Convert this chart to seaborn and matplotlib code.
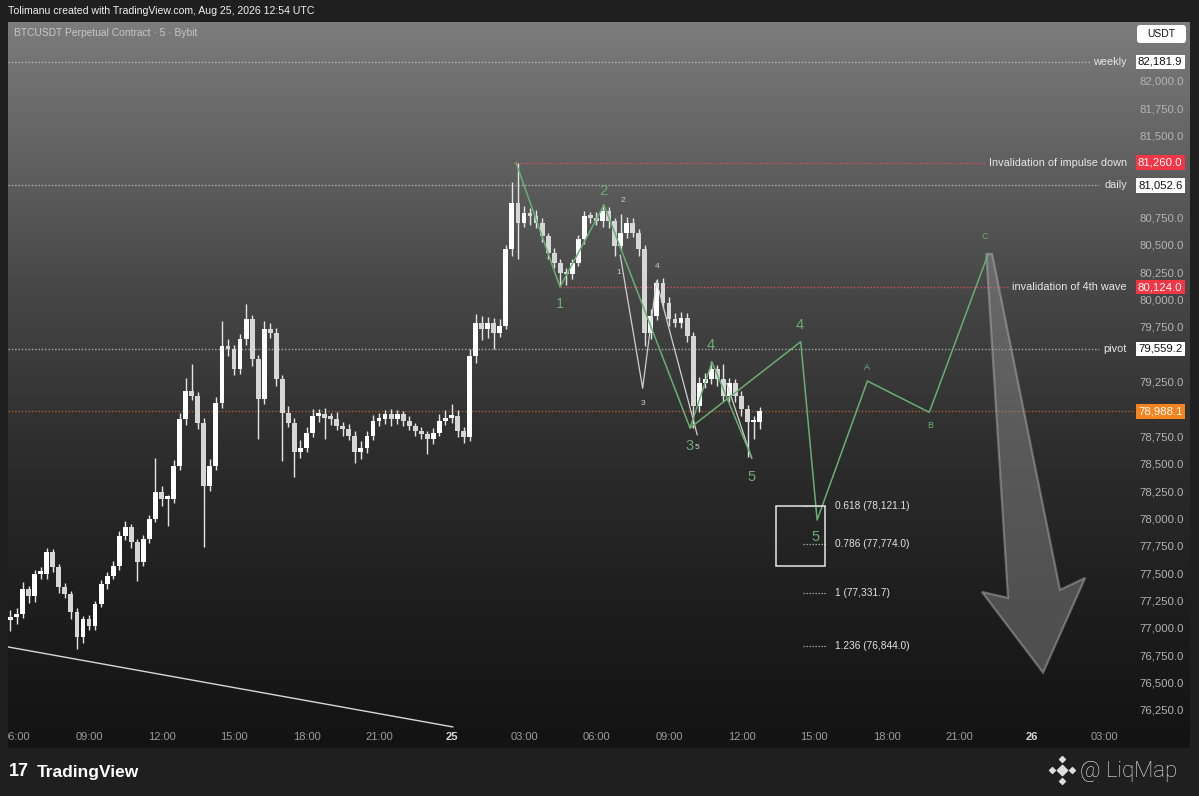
import numpy as np
import matplotlib
matplotlib.use("Agg")
import matplotlib.pyplot as plt
import matplotlib.transforms as mtransforms
from matplotlib.patches import Polygon, Rectangle, FancyBboxPatch
import seaborn as sns

# ============================================
# Data - 15 min candles, x = hours since Aug 24 00:00 UTC
# ============================================

first_open = 77080
close = [
    77106, 77137, 77365, 77304, 77502, 77502, 77699, 77563, 77380, 77319,
    77152, 76924, 77091, 77030, 77228, 77410, 77486, 77578, 77851, 77927,
    77791, 77608, 77821, 78004, 78247, 78186, 78186, 78490, 78916, 79174,
    79129, 78885, 78308, 78490, 79068, 79585, 79554, 79372, 79646, 79828,
    79463, 79098, 79737, 79706, 79281, 78977, 78885, 78612, 78657, 78794,
    78946, 78961, 78931, 78916, 78855, 78825, 78764, 78612, 78657, 78764,
    78901, 78916, 78961, 78916, 78961, 78901, 78855, 78809, 78779, 78733,
    78794, 78901, 78931, 78946, 78809, 78749, 79494, 79798,
    79738, 79799, 79707, 79768, 80468, 80893, 80711, 80802, 80772, 80711,
    80589, 80437, 80346, 80255, 80240, 80346, 80559, 80772, 80757, 80726,
    80817, 80726, 80498, 80620, 80711, 80620, 80468, 79707, 79860, 80164,
    79981, 79829, 79799, 79844, 79677, 79038, 79251, 79282, 79373, 79282,
    79130, 79251, 79130, 79008, 78886, 78886, 78988,
]
up_wick = [
    70, 50, 60, 30, 40, 60, 40, 30, 30, 40,
    30, 40, 30, 40, 30, 40, 30, 40, 40, 60,
    30, 30, 40, 40, 319, 60, 40, 50, 60, 122,
    244, 40, 40, 60, 50, 228, 60, 40, 50, 137,
    40, 40, 80, 60, 40, 40, 60, 40, 70, 50,
    60, 50, 60, 40, 70, 40, 50, 40, 60, 40,
    50, 60, 40, 50, 40, 30, 40, 30, 40, 30,
    40, 60, 70, 110, 50, 40, 60, 80,
    60, 50, 40, 60, 40, 186, 367, 60, 40, 60,
    40, 30, 40, 30, 40, 30, 40, 50, 40, 50,
    61, 40, 30, 167, 50, 40, 30, 40, 60, 30,
    40, 50, 60, 50, 40, 40, 50, 60, 77, 40,
    137, 40, 30, 40, 40, 60, 40,
]
dn_wick = [
    100, 60, 40, 70, 60, 50, 50, 40, 50, 40,
    60, 106, 50, 40, 40, 30, 50, 30, 40, 40,
    50, 167, 30, 40, 30, 60, 243, 40, 40, 50,
    40, 60, 563, 50, 40, 50, 60, 50, 40, 50,
    60, 365, 40, 50, 60, 441, 40, 228, 50, 40,
    40, 60, 200, 50, 40, 60, 40, 92, 60, 50,
    40, 50, 40, 60, 40, 50, 40, 50, 40, 136,
    40, 30, 40, 50, 60, 50, 30, 60,
    100, 80, 150, 40, 30, 60, 334, 40, 80, 50,
    50, 60, 50, 120, 100, 40, 30, 40, 50, 40,
    50, 60, 91, 40, 50, 40, 60, 121, 60, 40,
    50, 60, 40, 50, 60, 198, 60, 50, 40, 60,
    50, 60, 60, 60, 319, 152, 60,
]
candle_start = 5.75      # 05:45 on Aug 24
candle_step = 0.25       # 15 minutes

# wave counts (time in hours, price)
wave_t = [26.67, 28.49, 30.31, 33.87, 34.78, 36.43]
wave_p = [81260, 80124, 80873, 78836, 79439, 78562]
alt_t = [33.87, 38.45, 39.13, 41.21, 43.77, 46.21]
alt_p = [78836, 79624, 77995, 79265, 78979, 80426]
sub_t = [30.98, 31.91, 32.48, 34.17]
sub_p = [80417, 79199, 80179, 78772]
sub2_t = [35.39, 36.42]
sub2_p = [79244, 78559]
trend_t = [5.648, 24.06]
trend_p = [76835, 76104]

# horizontal levels
level_names = ["weekly", "Invalidation of impulse down", "daily",
               "invalidation of 4th wave", "pivot"]
level_prices = [82181.9, 81260.0, 81052.6, 80124.0, 79559.2]
level_start = [5.648, 26.55, 5.648, 28.49, 5.648]
level_end = [50.43, 46.12, 50.80, 47.12, 50.80]
level_red = [False, True, False, True, False]
last_price = 78988.1

# fib extension levels
fib_ratios = ["0.618", "0.786", "1", "1.236"]
fib_prices = [78121.1, 77774.0, 77331.7, 76844.0]
box_t = [37.43, 39.46]
box_p = [77575, 78121.1]

# projection arrow outline
arrow_t = [46.13, 46.37, 49.18, 50.22, 48.48, 45.95, 47.03]
arrow_p = [80426, 80426, 77356, 77466, 76600, 77338, 77283]

# axis ticks
price_ticks = list(range(76250, 82251, 250))
time_ticks = [6, 9, 12, 15, 18, 21, 24, 27, 30, 33, 36, 39, 42, 45, 48, 51]
time_labels = ["06:00", "09:00", "12:00", "15:00", "18:00", "21:00", "25",
               "03:00", "06:00", "09:00", "12:00", "15:00", "18:00", "21:00",
               "26", "03:00"]

# ============================================
# Figure
# ============================================

sns.set_theme(style="dark")
plt.rcParams['font.family'] = ['Liberation Sans', 'DejaVu Sans']

W, H = 1199, 796
GREEN = '#6aae72'
DOT = (0, (1, 1.4))

fig = plt.figure(figsize=(W / 100, H / 100), dpi=100, facecolor='#1f1f1f')
ax = fig.add_axes([8 / W, 1 - 748 / H, 1182 / W, 726 / H])
ax.axis('off')

# background gradient
grad_pos = [0.0, 0.176, 0.383, 0.59, 0.796, 1.0]
grad_val = [0x7c, 0x62, 0x45, 0x2d, 0x1e, 0x13]
g = np.interp(np.linspace(0, 1, 400), grad_pos, grad_val) / 255
img = np.stack([g, g, g], axis=-1)[:, None, :].repeat(2, axis=1)
ax.imshow(img, extent=[0, 1, 0, 1], transform=ax.transAxes, aspect='auto',
          zorder=0, interpolation='bilinear')

# candles
c = np.array(close, dtype=float)
o = np.r_[first_open, c[:-1]]
t = candle_start + candle_step * np.arange(len(c))
hi = np.maximum(o, c) + np.array(up_wick)
lo = np.minimum(o, c) - np.array(dn_wick)
cols = np.where(c >= o, '#ffffff', '#d6d6d6')
ax.vlines(t, lo, hi, colors='#e4e4e4', lw=1.0, zorder=3)
ax.bar(t, np.maximum(np.abs(c - o), 25), bottom=np.minimum(o, c), width=0.2,
       color=cols, edgecolor='none', zorder=4)

# trend line
ax.plot(trend_t, trend_p, color='#d8d8d8', lw=1.0, zorder=3)

# horizontal levels
yax = mtransforms.blended_transform_factory(ax.transAxes, ax.transData)
for name, p, s, e, red in zip(level_names, level_prices, level_start, level_end, level_red):
    col = '#e2505a' if red else '#cfcfcf'
    ax.hlines(p, s, e, colors=col, linestyles=DOT, lw=1.0, alpha=0.9 if red else 0.75, zorder=2)
    ax.text(51.95, p, name, ha='right', va='center', color='#e8e8e8', fontsize=7.8, zorder=9)
ax.hlines(last_price, 5.648, 52.2, colors='#c8682a', linestyles=DOT, lw=1.0, alpha=0.8, zorder=2)

# price scale (labels hidden behind a price box are skipped)
boxed = level_prices + [last_price]
for p in price_ticks:
    if min(abs(p - b) for b in boxed) < 120:
        continue
    ax.text(0.9763, p, f"{p:,.1f}", transform=yax, ha='center', va='center',
            color='#b4b4b4', fontsize=8.2, zorder=8)
for p, red in zip(level_prices, level_red):
    ax.text(0.9748, p, f"{p:,.1f}", transform=yax, ha='center', va='center',
            color='white' if red else '#111111', fontsize=8.2, zorder=10,
            bbox=dict(boxstyle='square,pad=0.2', fc='#f23645' if red else 'white', ec='none'))
ax.text(0.9748, last_price, f"{last_price:,.1f}", transform=yax, ha='center', va='center',
        color='white', fontsize=8.2, zorder=10,
        bbox=dict(boxstyle='square,pad=0.2', fc='#f5841f', ec='none'))

# time scale
xax = mtransforms.blended_transform_factory(ax.transData, ax.transAxes)
for h, lab in zip(time_ticks, time_labels):
    bold = lab in ("25", "26")
    ax.text(h, 0.0152, lab, transform=xax, ha='center', va='center', clip_on=True,
            color='#d8d8d8' if bold else '#9c9c9c', fontsize=8,
            fontweight='bold' if bold else 'normal', zorder=8)

# wave lines
sns.lineplot(x=wave_t, y=wave_p, ax=ax, color=GREEN, lw=1.1, sort=False, estimator=None, zorder=6)
sns.lineplot(x=alt_t, y=alt_p, ax=ax, color=GREEN, lw=1.1, sort=False, estimator=None, zorder=6)
sns.lineplot(x=sub_t, y=sub_p, ax=ax, color='#cfcfcf', lw=0.9, sort=False, estimator=None, zorder=5)
sns.lineplot(x=sub2_t, y=sub2_p, ax=ax, color='#cfcfcf', lw=0.9, sort=False, estimator=None, zorder=5)

# wave labels
big = dict(color=GREEN, fontsize=10.5, ha='center', va='center', zorder=7)
small = dict(color='#d0d0d0', fontsize=6, ha='center', va='center', zorder=7)
abc = dict(color=GREEN, fontsize=6.5, ha='center', va='center', zorder=7)
ax.text(28.49, 79969, "1", **big)
ax.text(30.27, 81001, "2", **big)
ax.text(33.83, 78671, "3", **big)
ax.text(34.74, 79594, "4", **big)
ax.text(36.43, 78388, "5", **big)
ax.text(38.42, 79777, "4", **big)
ax.text(39.08, 77840, "5", **big)
ax.text(41.19, 79384, "A", **abc)
ax.text(43.80, 78854, "B", **abc)
ax.text(46.08, 80581, "C", **abc)
ax.text(31.10, 80910, "2", **small)
ax.text(30.93, 80252, "1", **small)
ax.text(32.50, 80307, "4", **small)
ax.text(31.92, 79064, "3", **small)
ax.text(34.16, 78653, "5", **small)

# fib box and levels
ax.add_patch(Rectangle((box_t[0], box_p[0]), box_t[1] - box_t[0], box_p[1] - box_p[0],
                       fill=False, ec='#e6e6e6', lw=1.1, zorder=6))
ax.hlines(fib_prices, 38.54, 39.50, colors='#bdbdbd', linestyles=DOT, lw=0.9, zorder=5)
for r, p in zip(fib_ratios, fib_prices):
    ax.text(39.87, p, f"{r} ({p:,.1f})", va='center', ha='left', color='#e2e2e2',
            fontsize=7.3, zorder=7)

# projection arrow
ax.add_patch(Polygon(list(zip(arrow_t, arrow_p)), closed=True, fc='#909090', alpha=0.45,
                     ec='#b8b8b8', lw=1.6, zorder=4))

ax.set_xlim(5.648, 54.559)
ax.set_ylim(75911.6, 82545.5)

# header / footer overlay
ov = fig.add_axes([0, 0, 1, 1])
ov.set_xlim(0, W)
ov.set_ylim(H, 0)
ov.axis('off')
ov.patch.set_alpha(0)
ov.text(8, 11, "Tolimanu created with TradingView.com, Aug 25, 2026 12:54 UTC",
        color='#f0f0f0', fontsize=7.6, va='center', ha='left')
ov.text(14, 33, "BTCUSDT Perpetual Contract · 5 · Bybit", color='#c6c6c6',
        fontsize=7.4, va='center', ha='left')
ov.add_patch(FancyBboxPatch((1137, 25), 49, 18, boxstyle='round,pad=0,rounding_size=3',
                            fc='white', ec='none'))
ov.text(1161.5, 34, "USDT", ha='center', va='center', fontsize=7.5, color='#131313')

ov.text(9, 772, "17", color='white', fontsize=13, fontweight='heavy', va='center', ha='left')
ov.text(37, 772, "TradingView", color='white', fontsize=12.5, fontweight='bold',
        va='center', ha='left')
ov.scatter([1062], [770], marker='D', s=28, color='#dedede')
ov.scatter([1062, 1062, 1052, 1072], [759, 781, 770, 770], marker='D', s=9, color='#dedede')
ov.text(1080, 771, "@ LiqMap", color='#e6e6e6', fontsize=16, va='center', ha='left',
        family=['Roboto', 'DejaVu Sans'], fontweight='light')

fig.savefig("out.png", dpi=100, facecolor=fig.get_facecolor())
